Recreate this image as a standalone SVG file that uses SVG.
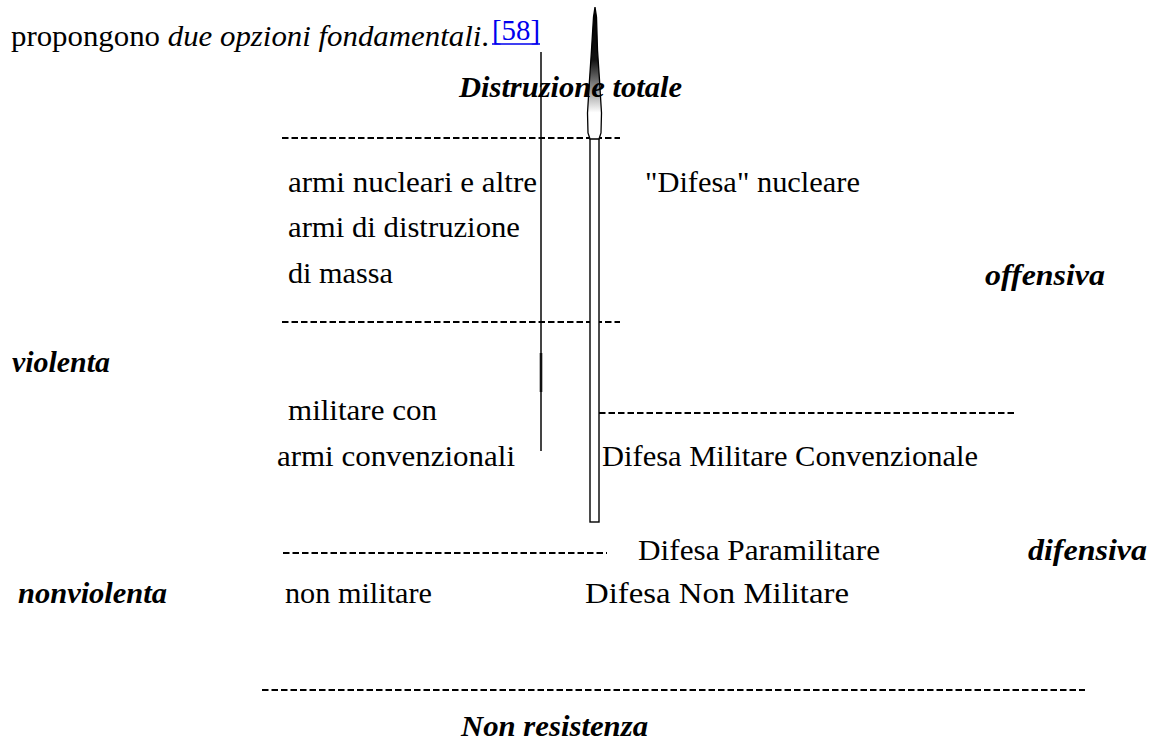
<svg xmlns="http://www.w3.org/2000/svg" width="1153" height="742" viewBox="0 0 1153 742" font-family="'Liberation Serif', serif">
<style>
text{font-family:'Liberation Serif',serif;font-size:29px;fill:#000}
.bi{font-weight:bold;font-style:italic}
.it{font-style:italic}
.dash{stroke:#000;stroke-width:2;stroke-dasharray:6.5 3;fill:none}
.link{fill:#0000ee}
</style>
<defs>
<linearGradient id="spikeG" x1="0" y1="0" x2="0" y2="1">
<stop offset="0" stop-color="#000"/>
<stop offset="0.4" stop-color="#111"/>
<stop offset="0.8" stop-color="#fff"/>
<stop offset="1" stop-color="#fff"/>
</linearGradient>
</defs>
<rect width="1153" height="742" fill="#fff"/>

<g id="intro">
<text x="11" y="46" textLength="478" lengthAdjust="spacingAndGlyphs">propongono <tspan class="it">due opzioni fondamentali</tspan>.</text>
<text class="link" x="492" y="40" textLength="48" lengthAdjust="spacingAndGlyphs">[58]</text>
<line x1="492" y1="44" x2="540" y2="44" stroke="#0000ee" stroke-width="1.5"/>
</g>

<g id="connectors">
<line x1="541" y1="52" x2="541" y2="451" stroke="#444" stroke-width="2"/>
<line x1="541" y1="353" x2="541" y2="392" stroke="#111" stroke-width="2.6"/>
<line class="dash" x1="282" y1="138" x2="620" y2="138"/>
<line class="dash" x1="282" y1="322" x2="620" y2="322"/>
<line class="dash" x1="599" y1="413" x2="1017" y2="413"/>
<line class="dash" x1="283" y1="553" x2="607" y2="553"/>
<line class="dash" x1="262" y1="690" x2="1085" y2="690"/>
<rect x="590" y="138" width="9" height="384" fill="#fff" stroke="#000" stroke-width="1.4"/>
<path d="M595,7 L596.5,17 L597.5,50 L599.5,80 L601.5,113 L601,133 L599,139 L590,139 L588,133 L587.5,113 L589.5,80 L591.5,50 L593.5,17 Z" fill="url(#spikeG)" stroke="#000" stroke-width="1.3"/>
</g>

<g id="top-label"><text class="bi" x="459" y="97" textLength="223" lengthAdjust="spacingAndGlyphs">Distruzione totale</text></g>

<g id="nuclear-weapons">
<text x="288" y="192" textLength="249" lengthAdjust="spacingAndGlyphs">armi nucleari e altre</text>
<text x="288" y="237" textLength="232" lengthAdjust="spacingAndGlyphs">armi di distruzione</text>
<text x="288" y="283" textLength="105" lengthAdjust="spacingAndGlyphs">di massa</text>
</g>
<g id="nuclear-defense"><text x="645" y="192" textLength="215" lengthAdjust="spacingAndGlyphs">"Difesa" nucleare</text></g>
<g id="offensiva"><text class="bi" x="985" y="285" textLength="120" lengthAdjust="spacingAndGlyphs">offensiva</text></g>
<g id="violenta"><text class="bi" x="12" y="372" textLength="98" lengthAdjust="spacingAndGlyphs">violenta</text></g>
<g id="conventional-weapons">
<text x="288" y="420" textLength="149" lengthAdjust="spacingAndGlyphs">militare con</text>
<text x="277" y="466" textLength="238" lengthAdjust="spacingAndGlyphs">armi convenzionali</text>
</g>
<g id="conventional-defense"><text x="602" y="466" textLength="376" lengthAdjust="spacingAndGlyphs">Difesa Militare Convenzionale</text></g>
<g id="paramilitary"><text x="638" y="560" textLength="242" lengthAdjust="spacingAndGlyphs">Difesa Paramilitare</text></g>
<g id="difensiva"><text class="bi" x="1028" y="560" textLength="119" lengthAdjust="spacingAndGlyphs">difensiva</text></g>
<g id="nonviolenta"><text class="bi" x="18" y="603" textLength="149" lengthAdjust="spacingAndGlyphs">nonviolenta</text></g>
<g id="non-military"><text x="285" y="603" textLength="147" lengthAdjust="spacingAndGlyphs">non militare</text></g>
<g id="non-military-defense"><text x="585" y="603" textLength="264" lengthAdjust="spacingAndGlyphs">Difesa Non Militare</text></g>
<g id="bottom-label"><text class="bi" x="461" y="736" textLength="187" lengthAdjust="spacingAndGlyphs">Non resistenza</text></g>
</svg>
